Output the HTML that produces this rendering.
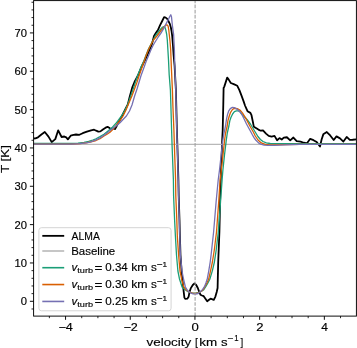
<!DOCTYPE html>
<html><head><meta charset="utf-8"><style>
html,body{margin:0;padding:0;background:#fff;}
body{width:357px;height:348px;overflow:hidden;}
svg{display:block;will-change:transform;}
text{font-family:"Liberation Sans", sans-serif;fill:#000;stroke:#000;stroke-width:0.15px;}
</style></head><body>
<svg width="357" height="348" viewBox="0 0 357 348">
<rect x="0" y="0" width="357" height="348" fill="#fff"/>
<defs><clipPath id="ax"><rect x="33.60" y="0.60" width="322.80" height="315.50"/></clipPath></defs>
<g clip-path="url(#ax)" fill="none" stroke-linejoin="round" stroke-linecap="butt">
<polyline points="33.50,138.50 35.50,138.30 38.00,137.30 41.40,134.50 44.80,132.00 48.50,136.60 51.70,142.10 55.30,139.10 58.20,130.30 61.60,137.00 64.30,136.50 66.20,137.40 67.90,139.40 70.70,135.70 73.60,134.80 76.00,134.50 79.40,134.80 82.70,133.20 86.90,131.60 91.10,130.30 94.10,129.70 96.20,130.70 98.30,131.60 100.40,131.40 102.90,129.50 105.60,127.70 107.60,126.90 109.20,127.70 110.80,129.10 112.50,128.60 114.20,128.30 115.00,129.10 116.60,126.20 117.40,124.50 121.00,118.00 125.00,110.00 127.80,104.40 129.90,96.00 132.40,87.00 134.50,82.00 137.70,76.00 141.50,67.00 144.50,61.00 146.90,56.00 149.80,49.50 152.00,44.00 154.00,36.00 156.00,32.80 158.10,29.70 160.10,25.20 162.20,21.00 164.10,17.20 165.70,17.60 167.00,18.60 168.40,21.00 169.80,23.80 170.80,27.20 171.50,30.70 172.20,36.00 173.00,46.00 173.60,55.00 174.60,66.00 175.90,90.00 176.30,106.00 176.90,130.00 177.40,146.00 178.40,180.00 178.70,196.00 179.50,220.00 179.90,236.00 180.50,255.00 181.60,271.00 182.80,283.00 183.60,290.90 184.40,297.60 185.20,298.90 187.30,298.70 188.60,296.80 189.40,292.60 190.70,288.40 192.80,285.00 194.50,283.40 196.20,285.00 197.80,288.00 199.50,292.60 200.40,294.70 202.00,295.50 203.70,296.20 205.10,298.20 207.20,301.20 209.10,299.80 210.60,298.70 212.50,299.30 213.80,299.80 215.40,296.60 216.70,292.00 217.60,288.00 218.20,262.00 219.40,232.00 220.10,202.00 221.00,170.00 221.50,160.00 222.20,140.00 222.70,130.00 223.30,104.00 223.60,88.00 224.30,86.60 227.20,77.60 228.60,79.40 230.80,83.00 233.70,84.10 237.30,85.80 239.40,90.10 241.60,95.90 243.70,101.60 245.00,105.50 246.60,109.10 247.50,111.20 250.40,112.90 251.50,115.20 252.70,121.00 253.80,126.70 255.50,127.80 258.40,129.60 260.70,130.70 263.00,130.40 266.00,133.60 268.70,135.90 271.60,136.60 274.50,135.90 277.10,140.20 279.50,138.10 281.70,139.50 283.80,137.60 286.90,137.25 290.20,140.35 293.40,137.55 296.70,141.15 300.50,141.65 303.80,142.75 307.00,143.35 310.20,138.85 313.50,140.15 316.70,142.05 320.00,146.55 321.60,139.45 323.30,134.35 326.80,132.05 330.20,135.45 333.70,140.05 336.50,136.35 340.00,138.35 343.40,141.55 346.70,136.95 349.80,139.85 352.60,139.75 356.40,139.45" stroke="#000" stroke-width="1.80"/>
<line x1="33.60" y1="144.30" x2="356.40" y2="144.30" stroke="#b8b8b8" stroke-width="1.35"/>
<polyline points="33.50,143.50 70.00,143.50 78.00,143.10 84.00,142.30 88.60,141.40 92.80,140.00 96.00,138.80 100.00,136.60 104.00,134.20 108.60,130.50 112.00,127.60 116.00,123.30 120.00,118.00 121.50,116.00 124.50,111.00 127.50,105.00 130.70,96.00 133.50,88.00 137.50,76.00 141.00,67.00 143.80,61.00 145.70,56.00 148.50,49.00 150.80,44.50 153.20,40.00 155.20,36.00 157.00,33.50 159.50,30.50 162.20,27.30 164.10,26.50 165.10,27.60 165.90,30.50 166.70,34.50 167.30,40.00 167.90,50.00 168.50,60.00 169.20,75.00 170.40,90.00 170.90,106.00 171.60,130.00 172.10,146.00 173.40,180.00 173.60,196.00 174.60,220.00 175.40,236.00 176.50,255.00 177.90,271.00 179.50,279.00 182.10,287.00 185.00,289.80 188.00,291.60 191.50,292.80 195.30,293.10 199.00,292.50 201.50,291.20 203.80,289.60 205.90,286.40 207.90,283.00 209.80,279.30 212.40,270.60 214.40,262.00 216.20,250.00 218.30,232.00 219.50,217.00 220.50,202.00 222.10,180.00 222.90,170.00 224.50,155.00 226.30,140.00 227.30,133.00 228.20,129.00 228.90,126.00 229.80,120.90 230.90,117.50 232.60,114.00 234.40,111.70 236.40,110.90 238.40,110.90 240.00,111.70 242.10,114.60 244.90,117.30 247.20,119.60 250.40,124.00 252.80,128.00 255.20,132.00 257.90,136.50 260.40,139.50 263.00,141.50 266.30,142.80 270.20,143.50 280.00,143.70 356.40,143.70" stroke="#1b9e77" stroke-width="1.30"/>
<polyline points="33.50,144.20 72.00,144.20 80.00,143.60 86.00,142.80 90.00,142.00 94.00,141.00 96.00,140.50 100.00,138.70 104.00,136.00 107.00,134.20 110.00,132.20 114.00,128.20 117.00,124.50 120.00,120.40 123.10,116.00 126.00,110.00 128.50,104.00 131.90,96.00 134.50,89.00 136.70,83.00 139.00,76.00 142.50,66.00 144.30,61.00 145.90,56.00 148.70,49.00 151.00,44.50 153.50,40.00 156.90,36.00 158.80,33.50 161.00,30.50 163.20,28.00 165.30,25.60 166.60,24.80 167.50,25.10 168.20,26.60 168.80,30.00 169.20,34.00 169.90,40.00 170.70,50.00 171.30,66.00 172.40,90.00 172.90,106.00 173.90,130.00 174.40,146.00 175.60,180.00 175.80,196.00 176.80,220.00 177.30,236.00 178.60,255.00 180.00,271.00 181.80,280.00 183.80,287.00 186.50,290.20 189.50,292.10 192.50,293.10 195.30,293.30 198.50,292.80 201.00,291.40 203.20,289.60 205.00,286.40 206.90,283.00 208.60,279.30 210.60,270.60 212.40,262.00 214.30,250.00 216.50,232.00 217.60,217.00 218.70,202.00 220.10,180.00 221.30,170.00 223.00,155.00 224.60,140.00 225.60,133.00 226.50,129.00 227.20,126.00 228.00,120.40 229.20,116.30 230.60,112.30 232.10,110.00 233.80,108.60 235.50,108.30 237.20,108.60 240.30,110.40 242.60,113.20 244.90,116.90 246.30,119.20 248.80,124.00 251.00,128.00 253.30,132.00 255.30,136.00 258.00,140.00 261.30,142.90 265.20,144.30 269.70,144.90 274.00,144.90 285.00,144.60 300.00,144.40 356.40,144.35" stroke="#d95f02" stroke-width="1.30"/>
<polyline points="33.50,144.20 72.00,144.20 80.00,143.60 86.00,142.90 90.00,142.10 93.50,140.90 96.00,139.90 100.00,137.90 104.00,135.20 108.00,132.20 110.00,130.60 114.00,127.60 117.00,125.20 120.00,122.80 123.50,119.00 126.40,116.00 129.50,111.00 132.00,105.00 134.60,96.00 137.00,89.00 138.80,83.00 140.90,76.00 144.50,66.00 146.30,61.00 148.40,56.00 151.30,49.00 153.30,45.00 155.70,41.00 158.90,36.00 160.80,33.40 163.60,28.60 166.30,23.40 168.80,18.60 170.00,16.00 170.80,14.80 171.50,16.90 172.20,23.80 172.90,29.30 173.60,34.00 174.40,50.00 174.80,66.00 175.80,90.00 176.20,106.00 176.80,130.00 177.30,146.00 178.30,180.00 178.60,196.00 179.40,220.00 179.80,236.00 180.40,255.00 182.00,271.00 183.50,279.00 185.40,287.00 187.50,290.40 190.00,292.60 193.00,293.80 195.50,294.10 198.00,293.50 200.30,291.70 202.50,289.60 204.60,286.40 205.90,283.00 207.20,279.30 208.80,270.60 210.20,262.00 211.20,254.00 213.60,232.00 216.10,202.00 218.20,180.00 219.50,170.00 220.60,160.00 221.70,150.00 222.80,140.00 223.80,134.00 224.70,130.00 225.50,126.00 226.00,122.70 226.60,118.60 227.50,114.60 228.60,111.20 230.30,108.60 232.40,107.40 234.40,107.60 236.10,108.60 237.80,109.70 240.30,112.30 242.10,115.00 244.00,118.70 246.50,124.00 248.70,128.00 250.90,132.00 252.50,135.00 254.00,137.60 255.70,140.00 258.50,142.90 260.70,144.10 264.10,145.10 268.00,145.40 274.00,145.40 285.00,144.80 300.00,144.45 356.40,144.35" stroke="#7570b3" stroke-width="1.30"/>
<line x1="195.10" y1="316.10" x2="195.10" y2="0.60" stroke="#a0a0a0" stroke-width="1.1" stroke-dasharray="3.7,1.43" stroke-dashoffset="0.00"/>
</g>
<rect x="38.90" y="227.70" width="132.20" height="83.10" rx="2.6" ry="2.6" fill="#fff" fill-opacity="0.8" stroke="#d0d0d0" stroke-width="0.9"/>
<line x1="42.3" y1="235.85" x2="64.2" y2="235.85" stroke="#000" stroke-width="1.80"/>
<line x1="42.3" y1="251.00" x2="64.2" y2="251.00" stroke="#b8b8b8" stroke-width="1.60"/>
<line x1="42.3" y1="267.70" x2="64.2" y2="267.70" stroke="#1b9e77" stroke-width="1.60"/>
<line x1="42.3" y1="284.55" x2="64.2" y2="284.55" stroke="#d95f02" stroke-width="1.60"/>
<line x1="42.3" y1="301.45" x2="64.2" y2="301.45" stroke="#7570b3" stroke-width="1.60"/>
<rect x="33.60" y="0.60" width="322.80" height="315.50" fill="none" stroke="#000" stroke-width="0.95"/>
<path d="M29.90 301.30H33.60 M29.90 262.96H33.60 M29.90 224.62H33.60 M29.90 186.28H33.60 M29.90 147.94H33.60 M29.90 109.60H33.60 M29.90 71.26H33.60 M29.90 32.92H33.60 M65.55 316.10V319.80 M130.25 316.10V319.80 M194.95 316.10V319.80 M259.65 316.10V319.80 M324.35 316.10V319.80" stroke="#000" stroke-width="0.95" fill="none"/>
<path d="M31.50 308.97H33.60 M31.50 293.63H33.60 M31.50 285.96H33.60 M31.50 278.30H33.60 M31.50 270.63H33.60 M31.50 255.29H33.60 M31.50 247.62H33.60 M31.50 239.96H33.60 M31.50 232.29H33.60 M31.50 216.95H33.60 M31.50 209.28H33.60 M31.50 201.62H33.60 M31.50 193.95H33.60 M31.50 178.61H33.60 M31.50 170.94H33.60 M31.50 163.28H33.60 M31.50 155.61H33.60 M31.50 140.27H33.60 M31.50 132.60H33.60 M31.50 124.94H33.60 M31.50 117.27H33.60 M31.50 101.93H33.60 M31.50 94.26H33.60 M31.50 86.60H33.60 M31.50 78.93H33.60 M31.50 63.59H33.60 M31.50 55.92H33.60 M31.50 48.26H33.60 M31.50 40.59H33.60 M31.50 25.25H33.60 M31.50 17.58H33.60 M31.50 9.92H33.60 M31.50 2.25H33.60 M49.37 316.10V318.20 M81.72 316.10V318.20 M97.90 316.10V318.20 M114.07 316.10V318.20 M146.42 316.10V318.20 M162.60 316.10V318.20 M178.77 316.10V318.20 M211.12 316.10V318.20 M227.30 316.10V318.20 M243.47 316.10V318.20 M275.82 316.10V318.20 M292.00 316.10V318.20 M308.18 316.10V318.20 M340.52 316.10V318.20" stroke="#000" stroke-width="0.85" fill="none"/>
<g transform="translate(20.77,305.40) scale(1.0600,1)"><text x="0" y="0" font-size="10.6">0</text></g>
<g transform="translate(14.41,267.06) scale(1.0600,1)"><text x="0" y="0" font-size="10.6">10</text></g>
<g transform="translate(14.41,228.72) scale(1.0600,1)"><text x="0" y="0" font-size="10.6">20</text></g>
<g transform="translate(14.41,190.38) scale(1.0600,1)"><text x="0" y="0" font-size="10.6">30</text></g>
<g transform="translate(14.41,152.04) scale(1.0600,1)"><text x="0" y="0" font-size="10.6">40</text></g>
<g transform="translate(14.41,113.70) scale(1.0600,1)"><text x="0" y="0" font-size="10.6">50</text></g>
<g transform="translate(14.41,75.36) scale(1.0600,1)"><text x="0" y="0" font-size="10.6">60</text></g>
<g transform="translate(14.41,37.02) scale(1.0600,1)"><text x="0" y="0" font-size="10.6">70</text></g>
<g transform="translate(58.40,330.70) scale(1.1911,1)"><text x="0" y="0" font-size="10.6">−4</text></g>
<g transform="translate(123.50,330.70) scale(1.1909,1)"><text x="0" y="0" font-size="10.6">−2</text></g>
<g transform="translate(191.48,330.70) scale(1.2400,1)"><text x="0" y="0" font-size="10.6">0</text></g>
<g transform="translate(256.13,330.70) scale(1.2400,1)"><text x="0" y="0" font-size="10.6">2</text></g>
<g transform="translate(321.17,330.70) scale(1.1273,1)"><text x="0" y="0" font-size="10.6">4</text></g>
<g transform="translate(71.60,239.70) scale(0.9809,1)"><text x="0" y="0" font-size="10.6">ALMA</text></g>
<g transform="translate(71.19,254.50) scale(1.0835,1)"><text x="0" y="0" font-size="10.6">Baseline</text></g>
<g transform="translate(71.46,271.20) scale(1.0857,1)"><text x="0" y="0" font-size="10.6" font-style="italic">v</text></g>
<g transform="translate(77.30,273.10) scale(1.1481,1)"><text x="0" y="0" font-size="8.0">turb</text></g>
<g transform="translate(94.56,271.80) scale(1.2762,1)"><text x="0" y="0" font-size="10.6">=</text></g>
<g transform="translate(105.25,271.20) scale(1.0900,1)"><text x="0" y="0" font-size="10.6">0.34</text></g>
<g transform="translate(131.13,271.20) scale(1.1608,1)"><text x="0" y="0" font-size="10.6">km</text></g>
<g transform="translate(151.03,271.20) scale(1.0947,1)"><text x="0" y="0" font-size="10.6">s</text></g>
<g transform="translate(156.99,267.00) scale(1.2500,1)"><text x="0" y="0" font-size="8.0">−</text></g>
<g transform="translate(162.49,267.00) scale(1.0286,1)"><text x="0" y="0" font-size="8.0">1</text></g>
<g transform="translate(71.46,287.90) scale(1.0857,1)"><text x="0" y="0" font-size="10.6" font-style="italic">v</text></g>
<g transform="translate(77.30,289.80) scale(1.1481,1)"><text x="0" y="0" font-size="8.0">turb</text></g>
<g transform="translate(94.56,288.50) scale(1.2762,1)"><text x="0" y="0" font-size="10.6">=</text></g>
<g transform="translate(105.25,287.90) scale(1.1038,1)"><text x="0" y="0" font-size="10.6">0.30</text></g>
<g transform="translate(131.13,287.90) scale(1.1608,1)"><text x="0" y="0" font-size="10.6">km</text></g>
<g transform="translate(151.03,287.90) scale(1.0947,1)"><text x="0" y="0" font-size="10.6">s</text></g>
<g transform="translate(156.99,283.70) scale(1.2500,1)"><text x="0" y="0" font-size="8.0">−</text></g>
<g transform="translate(162.49,283.70) scale(1.0286,1)"><text x="0" y="0" font-size="8.0">1</text></g>
<g transform="translate(71.46,304.75) scale(1.0857,1)"><text x="0" y="0" font-size="10.6" font-style="italic">v</text></g>
<g transform="translate(77.30,306.65) scale(1.1481,1)"><text x="0" y="0" font-size="8.0">turb</text></g>
<g transform="translate(94.56,305.35) scale(1.2762,1)"><text x="0" y="0" font-size="10.6">=</text></g>
<g transform="translate(105.25,304.75) scale(1.1038,1)"><text x="0" y="0" font-size="10.6">0.25</text></g>
<g transform="translate(131.13,304.75) scale(1.1608,1)"><text x="0" y="0" font-size="10.6">km</text></g>
<g transform="translate(151.03,304.75) scale(1.0947,1)"><text x="0" y="0" font-size="10.6">s</text></g>
<g transform="translate(156.99,300.55) scale(1.2500,1)"><text x="0" y="0" font-size="8.0">−</text></g>
<g transform="translate(162.49,300.55) scale(1.0286,1)"><text x="0" y="0" font-size="8.0">1</text></g>
<g transform="translate(146.50,345.50) scale(1.1487,1)"><text x="0" y="0" font-size="11.7">velocity</text></g>
<g transform="translate(194.91,345.50) scale(0.9200,1)"><text x="0" y="0" font-size="11.7">[</text></g>
<g transform="translate(199.34,345.50) scale(1.1509,1)"><text x="0" y="0" font-size="11.7">km</text></g>
<g transform="translate(221.02,345.50) scale(1.1238,1)"><text x="0" y="0" font-size="11.7">s</text></g>
<g transform="translate(227.31,341.20) scale(1.1765,1)"><text x="0" y="0" font-size="8.6">−</text></g>
<g transform="translate(234.32,341.20) scale(0.9067,1)"><text x="0" y="0" font-size="8.6">1</text></g>
<g transform="translate(240.50,345.50) scale(0.8400,1)"><text x="0" y="0" font-size="11.7">]</text></g>
<g transform="translate(8.70,173.10) rotate(-90) scale(1.1500,1)"><text x="0" y="0" font-size="11.7">T [K]</text></g>
</svg>
</body></html>
